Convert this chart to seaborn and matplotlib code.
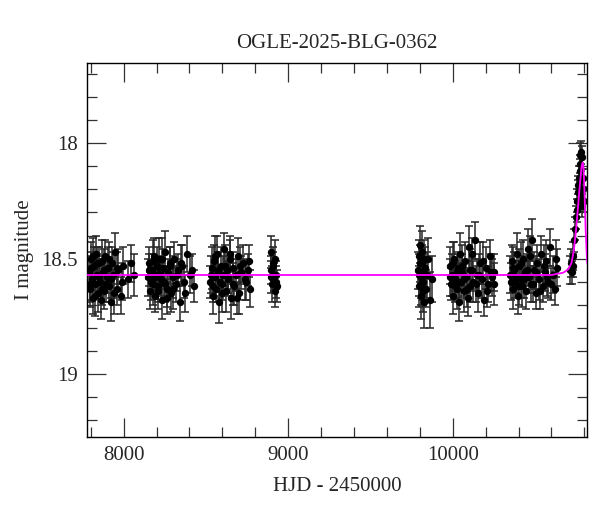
import numpy as np
import matplotlib
matplotlib.use("Agg")
import matplotlib.pyplot as plt
from matplotlib.ticker import MultipleLocator
import seaborn as sns

# Lichtkurve OGLE-2025-BLG-0362, Werte (HJD - 2450000, I mag, Fehler)
t1 = [7790, 7796, 7801, 7807, 7812, 7818, 7825, 7831, 7836, 7843, 7849, 7856, 7862, 7869, 7875,
      7882, 7889, 7897, 7904, 7912, 7921, 7929, 7938, 7947, 7957, 7968, 7981, 7997, 8024, 8062,
      7793, 7804, 7815, 7828, 7840, 7853, 7866, 7879, 7893, 7908, 7925, 7942, 7962, 7988, 8045]
m1 = [18.56, 18.63, 18.50, 18.59, 18.67, 18.53, 18.61, 18.48, 18.57, 18.65, 18.52, 18.60, 18.68, 18.51, 18.56,
      18.64, 18.49, 18.58, 18.54, 18.62, 18.69, 18.52, 18.57, 18.47, 18.63, 18.55, 18.66, 18.53, 18.59, 18.57,
      18.61, 18.54, 18.49, 18.66, 18.52, 18.58, 18.63, 18.55, 18.61, 18.50, 18.59, 18.65, 18.54, 18.60, 18.52]
e1 = [0.07, 0.08, 0.07, 0.09, 0.07, 0.08, 0.06, 0.08, 0.09, 0.08, 0.07, 0.06, 0.08, 0.09, 0.07,
      0.08, 0.07, 0.07, 0.09, 0.07, 0.08, 0.07, 0.10, 0.08, 0.07, 0.09, 0.08, 0.08, 0.08, 0.09,
      0.08, 0.07, 0.08, 0.09, 0.07, 0.08, 0.07, 0.09, 0.08, 0.07, 0.08, 0.09, 0.07, 0.08, 0.08]

t2 = [8150, 8157, 8163, 8170, 8176, 8183, 8190, 8196, 8203, 8210, 8217, 8224, 8231, 8238, 8246,
      8254, 8262, 8270, 8279, 8288, 8297, 8307, 8317, 8328, 8340, 8353, 8367, 8383, 8402, 8428,
      8153, 8166, 8179, 8193, 8206, 8220, 8235, 8250, 8266, 8283, 8302, 8322, 8346, 8375, 8415]
m2 = [18.58, 18.52, 18.64, 18.55, 18.61, 18.49, 18.66, 18.57, 18.53, 18.62, 18.50, 18.59, 18.68, 18.54, 18.60,
      18.47, 18.63, 18.56, 18.52, 18.65, 18.58, 18.50, 18.61, 18.55, 18.69, 18.53, 18.60, 18.48, 18.57, 18.62,
      18.55, 18.60, 18.51, 18.58, 18.64, 18.56, 18.50, 18.61, 18.67, 18.53, 18.63, 18.57, 18.52, 18.65, 18.55]
e2 = [0.08, 0.07, 0.08, 0.07, 0.09, 0.08, 0.07, 0.06, 0.08, 0.07, 0.09, 0.07, 0.08, 0.08, 0.07,
      0.09, 0.08, 0.06, 0.07, 0.08, 0.09, 0.07, 0.08, 0.07, 0.08, 0.09, 0.07, 0.08, 0.08, 0.07,
      0.07, 0.08, 0.09, 0.07, 0.08, 0.07, 0.09, 0.08, 0.07, 0.08, 0.09, 0.07, 0.08, 0.08, 0.07]

t3 = [8527, 8534, 8541, 8547, 8554, 8561, 8568, 8575, 8582, 8589, 8596, 8604, 8612, 8620,
      8628, 8636, 8645, 8654, 8663, 8672, 8682, 8692, 8703, 8715, 8728, 8742, 8756, 8766,
      8530, 8544, 8557, 8571, 8585, 8600, 8616, 8632, 8649, 8667, 8687, 8709, 8735, 8761]
m3 = [18.60, 18.54, 18.66, 18.51, 18.58, 18.63, 18.48, 18.56, 18.69, 18.53, 18.61, 18.57, 18.46, 18.64,
      18.55, 18.59, 18.50, 18.67, 18.54, 18.62, 18.57, 18.49, 18.65, 18.56, 18.52, 18.60, 18.55, 18.63,
      18.57, 18.62, 18.49, 18.55, 18.60, 18.65, 18.53, 18.58, 18.48, 18.61, 18.67, 18.53, 18.59, 18.51]
e3 = [0.07, 0.09, 0.08, 0.07, 0.08, 0.06, 0.08, 0.07, 0.09, 0.08, 0.07, 0.08, 0.07, 0.09,
      0.08, 0.07, 0.08, 0.09, 0.07, 0.08, 0.07, 0.08, 0.09, 0.07, 0.08, 0.08, 0.07, 0.08,
      0.08, 0.07, 0.09, 0.08, 0.07, 0.08, 0.09, 0.07, 0.08, 0.09, 0.07, 0.08, 0.09, 0.07]

t4 = [8893, 8898, 8903, 8907, 8912, 8917, 8921, 8926, 8930, 8895, 8910, 8924]
m4 = [18.47, 18.55, 18.61, 18.52, 18.58, 18.64, 18.50, 18.57, 18.62, 18.58, 18.53, 18.60]
e4 = [0.07, 0.06, 0.08, 0.07, 0.06, 0.07, 0.08, 0.06, 0.07, 0.07, 0.06, 0.07]

t5 = [9790, 9794, 9798, 9802, 9805, 9809, 9812, 9816, 9820, 9824, 9829, 9835, 9842, 9851, 9862, 9872,
      9796, 9800, 9807, 9814, 9818, 9827]
m5 = [18.55, 18.62, 18.49, 18.44, 18.58, 18.66, 18.52, 18.47, 18.60, 18.69, 18.54, 18.63, 18.57, 18.50, 18.68, 18.59,
      18.57, 18.52, 18.61, 18.56, 18.64, 18.50]
e5 = [0.08, 0.09, 0.07, 0.08, 0.09, 0.10, 0.08, 0.09, 0.08, 0.11, 0.09, 0.08, 0.10, 0.09, 0.12, 0.10,
      0.09, 0.08, 0.09, 0.10, 0.09, 0.08]

t6 = [9982, 9989, 9996, 10003, 10010, 10017, 10024, 10031, 10038, 10045, 10052, 10059, 10066, 10074, 10082, 10090,
      10098, 10107, 10116, 10125, 10135, 10145, 10155, 10166, 10177, 10189, 10201, 10213, 10226, 10240, 10252,
      9985, 9999, 10013, 10027, 10041, 10056, 10070, 10086, 10103, 10120, 10140, 10160, 10183, 10207, 10233, 10248]
m6 = [18.53, 18.61, 18.57, 18.66, 18.50, 18.59, 18.63, 18.54, 18.69, 18.48, 18.60, 18.56, 18.64, 18.51, 18.58, 18.67,
      18.45, 18.62, 18.55, 18.60, 18.42, 18.57, 18.65, 18.52, 18.59, 18.68, 18.54, 18.61, 18.49, 18.58, 18.56,
      18.58, 18.52, 18.62, 18.56, 18.60, 18.53, 18.59, 18.63, 18.55, 18.48, 18.61, 18.57, 18.51, 18.64, 18.56, 18.61]
e6 = [0.08, 0.07, 0.09, 0.08, 0.07, 0.08, 0.09, 0.07, 0.08, 0.09, 0.07, 0.08, 0.09, 0.08, 0.07, 0.08,
      0.09, 0.07, 0.08, 0.09, 0.08, 0.07, 0.08, 0.09, 0.08, 0.07, 0.09, 0.08, 0.07, 0.08, 0.08,
      0.08, 0.09, 0.07, 0.08, 0.08, 0.09, 0.07, 0.08, 0.09, 0.07, 0.08, 0.09, 0.08, 0.07, 0.08, 0.09]

t7 = [10350, 10358, 10366, 10373, 10381, 10389, 10397, 10405, 10413, 10421, 10430, 10439, 10448, 10457, 10466,
      10475, 10484, 10494, 10504, 10514, 10525, 10536, 10547, 10558, 10570, 10582, 10594, 10607, 10620, 10632,
      10354, 10369, 10385, 10401, 10417, 10434, 10452, 10470, 10489, 10509, 10530, 10552, 10576, 10600, 10626]
m7 = [18.57, 18.51, 18.63, 18.55, 18.60, 18.48, 18.66, 18.53, 18.59, 18.62, 18.50, 18.56, 18.64, 18.46, 18.58,
      18.61, 18.42, 18.55, 18.65, 18.52, 18.59, 18.48, 18.62, 18.56, 18.51, 18.60, 18.45, 18.57, 18.63, 18.54,
      18.60, 18.54, 18.58, 18.62, 18.52, 18.59, 18.55, 18.49, 18.61, 18.56, 18.64, 18.53, 18.58, 18.61, 18.50]
e7 = [0.08, 0.07, 0.09, 0.08, 0.07, 0.09, 0.08, 0.07, 0.08, 0.09, 0.08, 0.07, 0.08, 0.09, 0.07,
      0.08, 0.09, 0.08, 0.07, 0.08, 0.09, 0.08, 0.07, 0.08, 0.09, 0.07, 0.08, 0.08, 0.07, 0.08,
      0.08, 0.09, 0.07, 0.08, 0.09, 0.08, 0.07, 0.09, 0.08, 0.07, 0.08, 0.09, 0.08, 0.07, 0.08]

# Anstieg / Maximum
t8 = [10712, 10717, 10723, 10729, 10733, 10739, 10745, 10750, 10754, 10757, 10762, 10764,
      10768, 10772, 10774, 10776, 10778, 10780, 10782, 10784, 10788, 10790, 10794, 10798]
m8 = [18.55, 18.52, 18.56, 18.49, 18.53, 18.42, 18.37, 18.32, 18.29, 18.25, 18.21, 18.18,
      18.15, 18.09, 18.12, 18.05, 18.23, 18.04, 18.16, 18.06, 18.27, 18.15, 18.20, 18.25]
e8 = [0.06, 0.06, 0.05, 0.06, 0.05, 0.05, 0.05, 0.05, 0.05, 0.05, 0.05, 0.04,
      0.05, 0.04, 0.05, 0.05, 0.05, 0.05, 0.04, 0.05, 0.05, 0.04, 0.05, 0.05]

# Modellkurve (magenta)
model_t = [7779, 10600, 10672, 10703, 10723, 10737, 10750, 10762, 10774, 10784, 10790,
           10796, 10802, 10808, 10815, 10818]
model_m = [18.571, 18.571, 18.561, 18.546, 18.517, 18.46, 18.373, 18.272, 18.171, 18.098, 18.084,
           18.113, 18.229, 18.373, 18.481, 18.52]

t_all = np.concatenate([t1, t2, t3, t4, t5, t6, t7, t8])
m_all = np.concatenate([m1, m2, m3, m4, m5, m6, m7, m8])
e_all = np.concatenate([e1, e2, e3, e4, e5, e6, e7, e8])

sns.set_style("ticks")
plt.rcParams['font.family'] = ['Liberation Serif', 'DejaVu Serif']
plt.rcParams['font.size'] = 15

fig = plt.figure(figsize=(6, 5.12), dpi=100)
ax = fig.add_axes([0.1455, 0.147, 0.8333, 0.730])

ax.errorbar(t_all, m_all, yerr=e_all, fmt='none', ecolor='0.15', elinewidth=1.1,
            capsize=3, capthick=1.1, zorder=2)
sns.scatterplot(x=t_all, y=m_all, ax=ax, color='black', s=28, edgecolor='black',
                linewidth=0, zorder=3)
sns.lineplot(x=model_t, y=model_m, ax=ax, color='magenta', linewidth=1.3,
             sort=False, estimator=None, zorder=4)

ax.set_xlim(7779, 10818)
ax.set_ylim(19.272, 17.652)

ax.xaxis.set_major_locator(MultipleLocator(1000))
ax.xaxis.set_minor_locator(MultipleLocator(200))
ax.yaxis.set_minor_locator(MultipleLocator(0.1))
ax.set_yticks([18, 18.5, 19])
ax.set_yticklabels(['18', '18.5', '19'])

ax.tick_params(which='both', direction='in', top=True, right=True, color='0.2', width=0.9)
ax.tick_params(which='major', length=13.5, labelsize=15, pad=7)
ax.tick_params(which='minor', length=7)
for s in ax.spines.values():
    s.set_linewidth(1)
    s.set_color('black')

ax.set_title("OGLE-2025-BLG-0362", fontsize=15, pad=11)
ax.set_xlabel("HJD - 2450000", fontsize=15, labelpad=8)
ax.set_ylabel("I magnitude", fontsize=15, labelpad=5)

fig.savefig("out.png", dpi=100)
